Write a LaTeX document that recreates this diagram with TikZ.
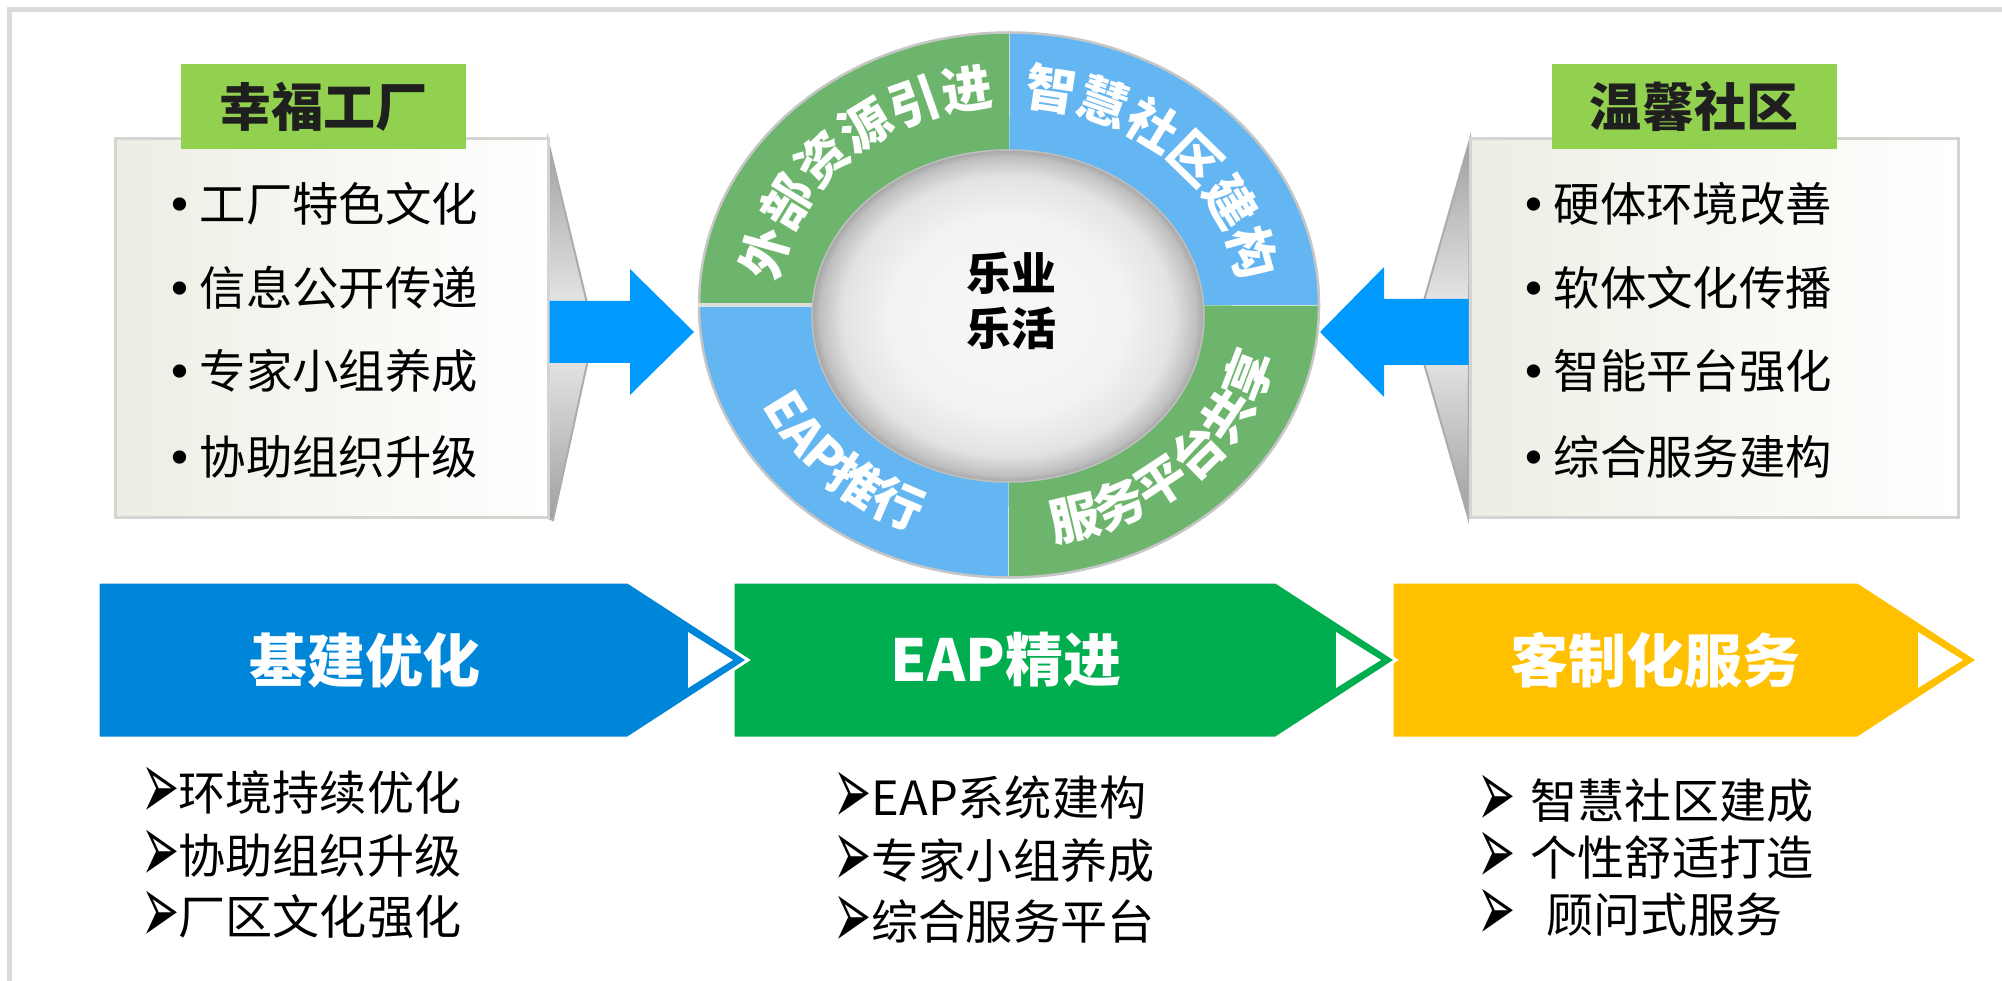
\documentclass[tikz,border=0pt]{standalone}
\usepackage{fontspec}
\setmainfont{Noto Sans CJK SC}
\newfontfamily\symfont{DejaVu Sans}
\usepackage{xcolor}
\usepackage{graphicx}
\usepackage{tikz}
\usetikzlibrary{shapes.geometric,calc,decorations.text}

\definecolor{framegray}{HTML}{DADADA}
\definecolor{labelgreen}{HTML}{92D050}
\definecolor{arrowblue}{HTML}{0099FF}
\definecolor{ringgreen}{HTML}{6DB56D}
\definecolor{ringblue}{HTML}{63B6F1}
\definecolor{chevblue}{HTML}{0086D9}
\definecolor{chevgreen}{HTML}{00AD4F}
\definecolor{chevgold}{HTML}{FFC000}
\definecolor{boxedge}{HTML}{D4D4D0}
\definecolor{boxfill}{HTML}{EEEDE4}

\pgfdeclareradialshading{discshade}{\pgfpoint{0bp}{0bp}}{color(0bp)=(white!94!gray); color(15bp)=(white!90!gray); color(21bp)=(gray!22); color(24bp)=(gray!50); color(25bp)=(gray!70); color(50bp)=(gray!70)}

\newcommand{\arr}{\raisebox{-2.4pt}{\smash{\scalebox{0.72}[1.55]{\symfont\fontsize{18pt}{18pt}\selectfont ➢}}}}
\newcommand{\dotmark}{{\symfont\fontsize{13pt}{13pt}\selectfont •}}
\newcommand{\ringfont}{\bfseries\fontsize{14.4pt}{15pt}\selectfont}

\begin{document}
\begin{tikzpicture}[x=0.1mm, y=0.1mm,
	label/.style={fill=labelgreen, minimum width=28.5mm, minimum height=8.5mm, inner sep=0pt, text=black!88, font=\bfseries\fontsize{14.8pt}{16pt}\selectfont},
	panel/.style={draw=boxedge, line width=0.3mm, left color=boxfill, right color=white, inner sep=0pt, minimum height=37.9mm},
	side/.style={draw=gray!65, line width=0.2mm, top color=gray!75, bottom color=gray!75, middle color=gray!12},
	item/.style={anchor=west, inner sep=0pt, font=\fontsize{13.2pt}{15pt}\selectfont},
	point/.style={anchor=west, inner sep=0pt, font=\fontsize{13.4pt}{15pt}\selectfont},
	stage/.style={text=white, inner sep=0pt, font=\bfseries\fontsize{16.5pt}{18pt}\selectfont},
	chev/.style={draw=white, line width=0.3mm},
	bigarrow/.style={fill=arrowblue},
	ringtext/.style={decorate, decoration={text along path, text align=center, text color=white, text={|\ringfont|#1}}}
]
	\useasboundingbox (0,0) rectangle (2002,-981);
	\draw[framegray, line width=0.5mm] (9,-981) -- (9,-10) -- (2002,-10);
	%
	% side panels
	\path[side] (548,-141) -- (594,-332) -- (553,-520) -- (548,-518) -- cycle;
	\path[side] (1470,-139) -- (1415,-332) -- (1468,-517) -- cycle;
	\node[panel, minimum width=43.3mm] (lbox) at (331.5,-328.5) {};
	\node[panel, minimum width=48.8mm] (rbox) at (1714,-328.5) {};
	\node[label] (lhead) at (323.5,-106.5) {幸福工厂};
	\node[label] (rhead) at (1694,-106.5) {温馨社区};
	%
	\node[item] (f1) at (159,-204) {\makebox[4mm]{\dotmark}工厂特色文化};
	\node[item] (f2) at (159,-288) {\makebox[4mm]{\dotmark}信息公开传递};
	\node[item] (f3) at (159,-371) {\makebox[4mm]{\dotmark}专家小组养成};
	\node[item] (f4) at (159,-457) {\makebox[4mm]{\dotmark}协助组织升级};
	\node[item] (c1) at (1513,-204) {\makebox[4mm]{\dotmark}硬体环境改善};
	\node[item] (c2) at (1513,-288) {\makebox[4mm]{\dotmark}软体文化传播};
	\node[item] (c3) at (1513,-371) {\makebox[4mm]{\dotmark}智能平台强化};
	\node[item] (c4) at (1513,-457) {\makebox[4mm]{\dotmark}综合服务建构};
	%
	% ring
	\node[ellipse, minimum width=62mm, minimum height=54.5mm, inner sep=0pt] (ring) at (1009,-305) {};
	\fill[ringblue] (ring.center) -- (ring.east) arc[start angle=0, end angle=90, x radius=310, y radius=272.5] -- cycle;
	\fill[ringgreen] (ring.center) -- (ring.north) arc[start angle=90, end angle=180, x radius=310, y radius=272.5] -- cycle;
	\fill[ringblue] (ring.center) -- (ring.west) arc[start angle=180, end angle=270, x radius=310, y radius=272.5] -- cycle;
	\fill[ringgreen] (ring.center) -- (ring.south) arc[start angle=270, end angle=360, x radius=310, y radius=272.5] -- cycle;
	\draw[gray!45, line width=0.25mm] (ring.center) ellipse[x radius=310, y radius=272.5];
	\draw[gray!25, line width=0.35mm] (ring.west) -- (ring.center);
	\node[ellipse, shade, shading=discshade, draw=gray!50, line width=0.15mm, minimum width=39.2mm, minimum height=33.2mm] (disc) at (1008,-316) {};
	\node[align=center, font=\bfseries\fontsize{12.8pt}{15.6pt}\selectfont] (core) at (1011,-301) {乐业\\乐活};
	%
	\path[ringtext=外部资源引进] ($(ring.center)+(195:232 and 200)$) arc[start angle=195, end angle=75, x radius=232, y radius=200];
	\path[ringtext=智慧社区建构] ($(ring.center)+(105:232 and 200)$) arc[start angle=105, end angle=-15, x radius=232, y radius=200];
	\path[ringtext=EAP推行] ($(ring.center)+(165:272 and 240)$) arc[start angle=165, end angle=285, x radius=272, y radius=240];
	\path[ringtext=服务平台共享] ($(ring.center)+(-105:272 and 240)$) arc[start angle=-105, end angle=15, x radius=272, y radius=240];
	%
	% arrows into the ring
	\coordinate (ltip) at (694,-332);
	\coordinate (rtip) at (1320,-332);
	\fill[bigarrow] ($(lbox.east |- ltip)+(0,31)$) -- ($(ltip)+(-64,31)$) -- ($(ltip)+(-64,63)$) -- (ltip)
		-- ($(ltip)+(-64,-63)$) -- ($(ltip)+(-64,-31)$) -- ($(lbox.east |- ltip)+(0,-31)$) -- cycle;
	\fill[bigarrow] ($(rbox.west |- rtip)+(0,33)$) -- ($(rtip)+(64,33)$) -- ($(rtip)+(64,65)$) -- (rtip)
		-- ($(rtip)+(64,-65)$) -- ($(rtip)+(64,-33)$) -- ($(rbox.west |- rtip)+(0,-33)$) -- cycle;
	%
	% stages
	\filldraw[chev, fill=chevgold] (1392,-582) -- (1858,-582) -- (1978,-660) -- (1858,-738) -- (1392,-738) -- cycle;
	\fill[white] (1918,-632) -- (1963,-660) -- (1918,-688) -- cycle;
	\filldraw[chev, fill=chevgreen] (733,-582) -- (1276,-582) -- (1396,-660) -- (1276,-738) -- (733,-738) -- cycle;
	\fill[white] (1336,-632) -- (1381,-660) -- (1336,-688) -- cycle;
	\filldraw[chev, fill=chevblue] (98,-582) -- (628,-582) -- (748,-660) -- (628,-738) -- (98,-738) -- cycle;
	\fill[white] (688,-632) -- (733,-660) -- (688,-688) -- cycle;
	\node[stage] (s1) at (365,-660) {基建优化};
	\node[stage] (s2) at (1006,-660) {EAP精进};
	\node[stage] (s3) at (1655,-660) {客制化服务};
	%
	\node[point] (p1) at (141,-795) {\makebox[3.7mm]{\arr}环境持续优化};
	\node[point] (p2) at (141,-858) {\makebox[3.7mm]{\arr}协助组织升级};
	\node[point] (p3) at (141,-919) {\makebox[3.7mm]{\arr}厂区文化强化};
	\node[point] (q1) at (833,-800) {\makebox[3.8mm]{\arr}EAP系统建构};
	\node[point] (q2) at (833,-863) {\makebox[3.8mm]{\arr}专家小组养成};
	\node[point] (q3) at (833,-924) {\makebox[3.8mm]{\arr}综合服务平台};
	\node[point] (r1) at (1477,-803) {\makebox[3.8mm]{\arr}\hspace{1.5mm}智慧社区建成};
	\node[point] (r2) at (1477,-860) {\makebox[3.8mm]{\arr}\hspace{1.5mm}个性舒适打造};
	\node[point] (r3) at (1477,-917) {\makebox[3.8mm]{\arr}\hspace{3.1mm}顾问式服务};
\end{tikzpicture}
\end{document}
